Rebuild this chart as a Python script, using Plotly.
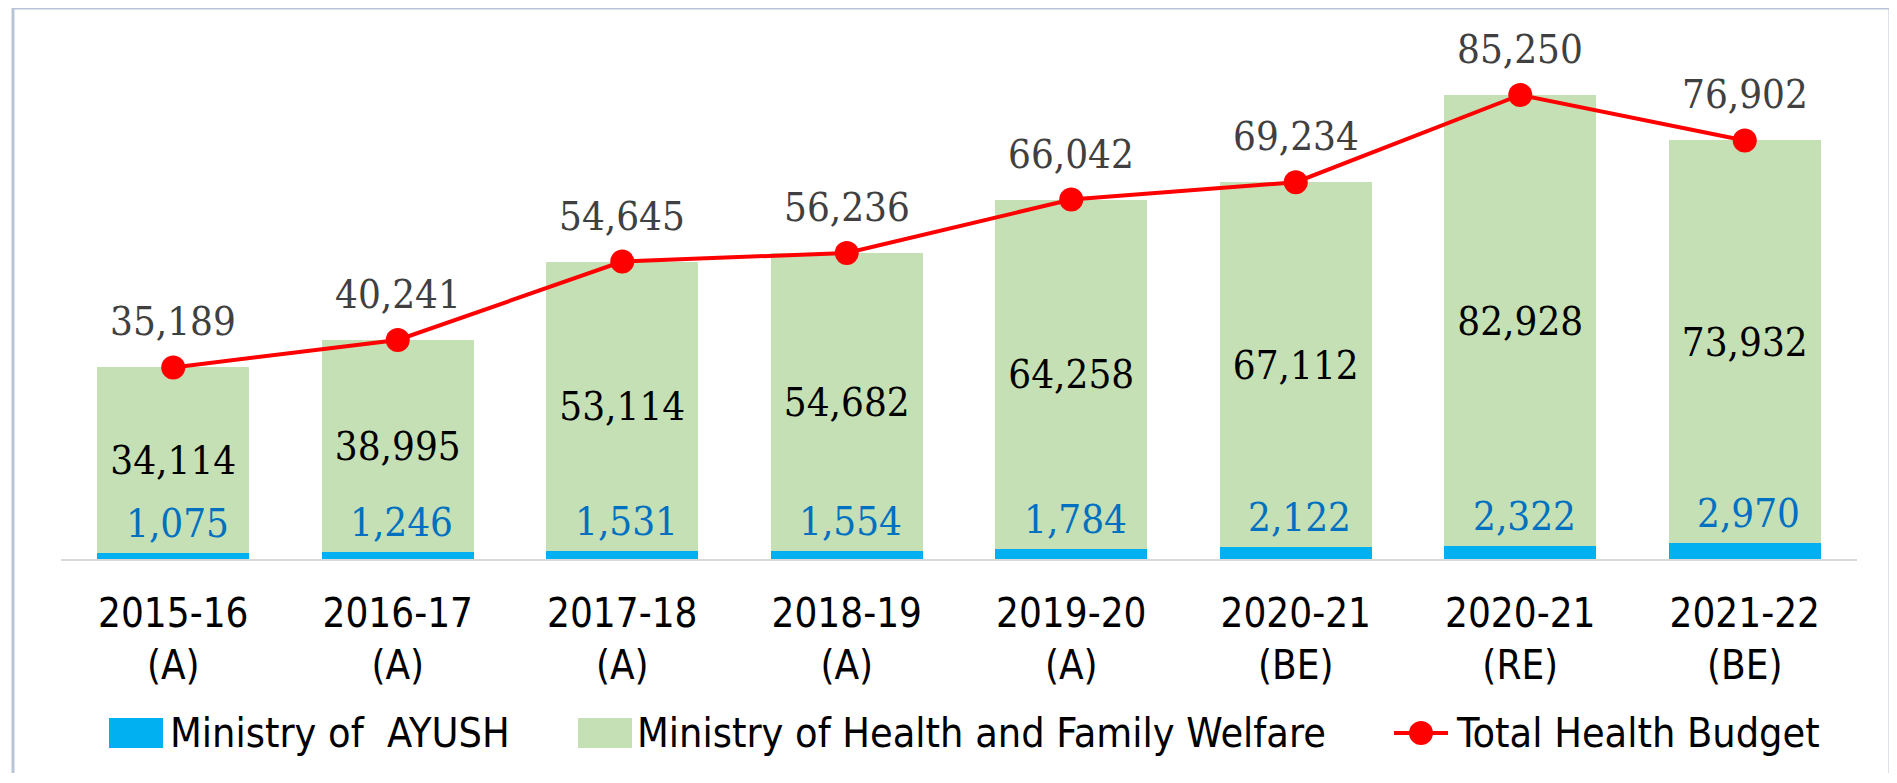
import plotly.graph_objects as go

categories = ["2015-16<br>(A)", "2016-17<br>(A)", "2017-18<br>(A)", "2018-19<br>(A)",
              "2019-20<br>(A)", "2020-21<br>(BE)", "2020-21<br>(RE)", "2021-22<br>(BE)"]
ayush = [1075, 1246, 1531, 1554, 1784, 2122, 2322, 2970]
mohfw = [34114, 38995, 53114, 54682, 64258, 67112, 82928, 73932]
total = [35189, 40241, 54645, 56236, 66042, 69234, 85250, 76902]
series_names = ["Ministry of  AYUSH", "Ministry of Health and Family Welfare", "Total Health Budget"]
series_colors = ["#00B0F0", "#C5E0B4", "#FF0000"]

def fmt(v):
    return f"{v:,}"

SERIF = "DejaVu Serif Condensed, DejaVu Serif, serif"
SANS = "Liberation Sans Narrow, DejaVu Sans Condensed, sans-serif"

# page geometry (the plot div sits 8px inside the page because of body margin)
W, H = 1881, 765
ML, MT = 53, 12
PW, PH = 1796, 539
MR, MB = W - ML - PW, H - MT - PH

def px(xpage):
    return (xpage - 8 - ML) / PW

def py(ypage):
    return (MT + PH - (ypage - 8)) / PH

fig = go.Figure()
fig.add_trace(go.Bar(
    x=categories, y=ayush, name=series_names[0],
    marker=dict(color=series_colors[0], line=dict(width=0)),
))
fig.add_trace(go.Bar(
    x=categories, y=mohfw, name=series_names[1],
    marker=dict(color=series_colors[1], line=dict(width=0)),
    text=[fmt(v) for v in mohfw], textposition="inside", insidetextanchor="middle",
    textfont=dict(family=SERIF, size=40, color="#000000"),
    constraintext="none", textangle=0,
))
fig.add_trace(go.Scatter(
    x=categories, y=total, name=series_names[2], mode="lines+markers",
    line=dict(color=series_colors[2], width=4),
    marker=dict(color=series_colors[2], size=24),
))

annotations = []
for c, t in zip(categories, total):
    annotations.append(dict(x=c, y=t, text=fmt(t), showarrow=False, yshift=46,
                            font=dict(family=SERIF, size=40, color="#404040")))
for c, a in zip(categories, ayush):
    annotations.append(dict(x=c, y=a, text=fmt(a), showarrow=False, yshift=30, xshift=4,
                            font=dict(family=SERIF, size=40, color="#0070C0")))

# custom legend (large swatches as in the reference)
leg_y = 733
shapes = []
swatch_x = [109, 578]
for sx, col in zip(swatch_x, series_colors[:2]):
    shapes.append(dict(type="rect", xref="paper", yref="paper",
                       xsizemode="pixel", ysizemode="pixel",
                       xanchor=px(sx), yanchor=py(leg_y),
                       x0=0, x1=54, y0=-15, y1=15,
                       line=dict(width=0), fillcolor=col))
shapes.append(dict(type="line", xref="paper", yref="paper",
                   x0=px(1394), x1=px(1448), y0=py(leg_y), y1=py(leg_y),
                   line=dict(color=series_colors[2], width=4)))
shapes.append(dict(type="circle", xref="paper", yref="paper",
                   xsizemode="pixel", ysizemode="pixel",
                   xanchor=px(1421), yanchor=py(leg_y),
                   x0=-12, x1=12, y0=-12, y1=12,
                   line=dict(width=0), fillcolor=series_colors[2]))
text_x = [168, 635, 1454]
for tx, name in zip(text_x, series_names):
    annotations.append(dict(xref="paper", yref="paper", x=px(tx), y=py(leg_y),
                            xanchor="left", yanchor="middle", text=name, showarrow=False,
                            font=dict(family=SANS, size=41, color="#000000")))

# chart border
shapes.append(dict(type="rect", xref="paper", yref="paper",
                   x0=px(13), x1=px(1890), y0=py(820), y1=py(8),
                   line=dict(color="#B9C4D6", width=3), fillcolor="rgba(0,0,0,0)", layer="below"))

fig.update_layout(
    width=W, height=H,
    margin=dict(l=ML, r=MR, t=MT, b=MB, pad=0),
    paper_bgcolor="white", plot_bgcolor="white",
    barmode="stack", bargap=0.323,
    showlegend=False,
    annotations=annotations,
    shapes=shapes,
)
fig.update_xaxes(showgrid=False, showline=True, linecolor="#D9D9D9", linewidth=2,
                 tickfont=dict(family=SANS, size=40, color="#000000"),
                 ticks="", ticklabelstandoff=18)
fig.update_yaxes(visible=False, range=[0, 99027], showgrid=False)

fig.write_html("out.html")
